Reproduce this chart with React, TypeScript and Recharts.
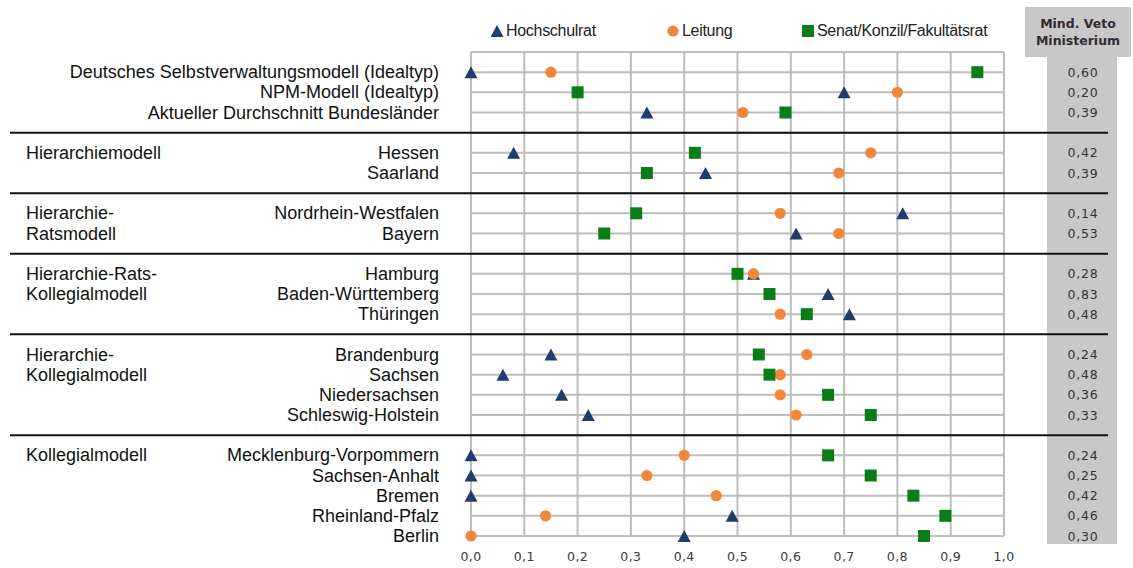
import { type ReactElement } from 'react'
import {
  ScatterChart,
  Scatter,
  XAxis,
  YAxis,
  CartesianGrid,
  ReferenceLine,
  Legend,
} from 'recharts'

// row labels, top to bottom
const rows = [
  'Deutsches Selbstverwaltungsmodell (Idealtyp)',
  'NPM-Modell (Idealtyp)',
  'Aktueller Durchschnitt Bundesländer',
  'Hessen',
  'Saarland',
  'Nordrhein-Westfalen',
  'Bayern',
  'Hamburg',
  'Baden-Württemberg',
  'Thüringen',
  'Brandenburg',
  'Sachsen',
  'Niedersachsen',
  'Schleswig-Holstein',
  'Mecklenburg-Vorpommern',
  'Sachsen-Anhalt',
  'Bremen',
  'Rheinland-Pfalz',
  'Berlin',
]

const groupLabels = [
  '', '', '',
  'Hierarchiemodell', '',
  'Hierarchie-', 'Ratsmodell',
  'Hierarchie-Rats-', 'Kollegialmodell', '',
  'Hierarchie-', 'Kollegialmodell', '', '',
  'Kollegialmodell', '', '', '', '',
]

// rows per block, blocks are split by black lines
const groupSizes = [3, 2, 2, 3, 4, 5]

const hochschulrat = [0.0, 0.7, 0.33, 0.08, 0.44, 0.81, 0.61, 0.53, 0.67, 0.71, 0.15, 0.06, 0.17, 0.22, 0.0, 0.0, 0.0, 0.49, 0.4]
const leitung = [0.15, 0.8, 0.51, 0.75, 0.69, 0.58, 0.69, 0.53, 0.56, 0.58, 0.63, 0.58, 0.58, 0.61, 0.4, 0.33, 0.46, 0.14, 0.0]
const senat = [0.95, 0.2, 0.59, 0.42, 0.33, 0.31, 0.25, 0.5, 0.56, 0.63, 0.54, 0.56, 0.67, 0.75, 0.67, 0.75, 0.83, 0.89, 0.85]
const vetoMinisterium = [0.6, 0.2, 0.39, 0.42, 0.39, 0.14, 0.53, 0.28, 0.83, 0.48, 0.24, 0.48, 0.36, 0.33, 0.24, 0.25, 0.42, 0.46, 0.3]

const xTicks = [0, 0.1, 0.2, 0.3, 0.4, 0.5, 0.6, 0.7, 0.8, 0.9, 1.0]

const NAVY = '#1f3c6c'
const ORANGE = '#f2873a'
const GREEN = '#0a7e16'
const GRID = '#bdbdbd'
const PANEL = '#c8c8c8'

// slot index per row, leaving one empty slot between blocks
const slots: number[] = []
const separators: number[] = []
{
  let s = 0
  groupSizes.forEach((n, gi) => {
    for (let k = 0; k < n; k++) slots.push(s++)
    if (gi < groupSizes.length - 1) separators.push(s++)
  })
}
const lastSlot = slots[slots.length - 1]!
const yTicks = Array.from({ length: lastSlot + 2 }, (_, i) => i - 1)

const toRows = (vals: number[]) => vals.map((v, i) => ({ x: v, slot: slots[i], name: rows[i] }))

const fmt = (v: number, d: number) => v.toFixed(d).replace('.', ',')

const LABEL_FONT = "'Liberation Sans', Arial, sans-serif"
const SMALL_FONT = "'DejaVu Sans', Verdana, sans-serif"

function RowTick(props: any): ReactElement | null {
  const { y, payload } = props
  const i = slots.indexOf(payload.value)
  if (i < 0) return null
  return (
    <g>
      <text x={439} y={y} textAnchor="end" dominantBaseline="central" fontSize={18} fontFamily={LABEL_FONT} fill="#111">
        {rows[i]}
      </text>
      {groupLabels[i] && (
        <text x={26} y={y} textAnchor="start" dominantBaseline="central" fontSize={18} fontFamily={LABEL_FONT} fill="#111">
          {groupLabels[i]}
        </text>
      )}
      <text x={1083} y={y} textAnchor="middle" dominantBaseline="central" fontSize={12.5} letterSpacing={0.8} fontFamily={SMALL_FONT} fill="#333">
        {fmt(vetoMinisterium[i]!, 2)}
      </text>
    </g>
  )
}

function Marker({ cx, cy, kind, color }: { cx: number; cy: number; kind: string; color: string }): ReactElement {
  if (kind === 'triangle') {
    return <polygon points={`${cx},${cy - 6} ${cx - 6.5},${cy + 6} ${cx + 6.5},${cy + 6}`} fill={color} />
  }
  if (kind === 'square') {
    return <rect x={cx - 6} y={cy - 6} width={12} height={12} fill={color} />
  }
  return <circle cx={cx} cy={cy} r={5.6} fill={color} />
}

const legendX = [490, 666, 801]

function LegendContent(props: any): ReactElement {
  const items = props.payload ?? []
  return (
    <div style={{ position: 'relative', height: 0 }}>
      {items.map((it: any, i: number) => (
        <div
          key={it.value}
          style={{
            position: 'absolute',
            left: legendX[i],
            top: 0,
            display: 'flex',
            alignItems: 'center',
            whiteSpace: 'nowrap',
            fontFamily: LABEL_FONT,
            fontSize: 16,
            color: '#222',
            letterSpacing: -0.3,
          }}
        >
          <svg width={14} height={14} style={{ marginRight: 2 }}>
            <Marker cx={7} cy={7} kind={it.type} color={it.color} />
          </svg>
          {it.value}
        </div>
      ))}
    </div>
  )
}

export default function App(): ReactElement {
  return (
    <div style={{ position: 'absolute', left: 0, top: 0, width: 1133, height: 568, background: '#fff' }}>
      {/* grey column for Mind. Veto Ministerium */}
      <div style={{ position: 'absolute', left: 1047, top: 57, width: 70, height: 487, background: PANEL }} />
      <div
        style={{
          position: 'absolute',
          left: 1025,
          top: 7,
          width: 106,
          height: 50,
          background: PANEL,
          display: 'flex',
          flexDirection: 'column',
          justifyContent: 'center',
          alignItems: 'center',
          fontFamily: SMALL_FONT,
          fontWeight: 'bold',
          fontSize: 12.5,
          lineHeight: '17px',
          color: '#332a33',
        }}
      >
        <div>Mind. Veto</div>
        <div>Ministerium</div>
      </div>
      <div style={{ position: 'absolute', left: 0, top: 0 }}>
        <ScatterChart width={1133} height={568} margin={{ top: 52, right: 129, bottom: 0, left: 0 }}>
          <CartesianGrid stroke={GRID} strokeWidth={2} />
          <XAxis
            type="number"
            dataKey="x"
            domain={[0, 1]}
            ticks={xTicks}
            interval={0}
            height={32}
            axisLine={false}
            tickLine={false}
            tickMargin={10}
            tickFormatter={(v: number) => fmt(v, 1)}
            tick={{ fontSize: 12.5, fontFamily: SMALL_FONT, fill: '#3a3a3a', letterSpacing: 0.4 }}
          />
          <YAxis
            type="number"
            dataKey="slot"
            domain={[-1, lastSlot]}
            reversed
            ticks={yTicks}
            interval={0}
            width={471}
            axisLine={false}
            tickLine={false}
            tick={(p: any) => <RowTick {...p} />}
          />
          <Legend
            verticalAlign="top"
            content={(p: any) => <LegendContent {...p} />}
            wrapperStyle={{ position: 'absolute', top: 22, left: 0, width: 1133 }}
          />
          {separators.map((s) => (
            <ReferenceLine
              key={s}
              y={s}
              shape={(p: any) => <line x1={10} x2={1108} y1={p.y1} y2={p.y2} stroke="#111" strokeWidth={2} />}
            />
          ))}
          <Scatter
            name="Hochschulrat"
            data={toRows(hochschulrat)}
            fill={NAVY}
            legendType="triangle"
            isAnimationActive={false}
            shape={(p: any) => <Marker cx={p.cx} cy={p.cy} kind="triangle" color={NAVY} />}
          />
          <Scatter
            name="Leitung"
            data={toRows(leitung)}
            fill={ORANGE}
            legendType="circle"
            isAnimationActive={false}
            shape={(p: any) => <Marker cx={p.cx} cy={p.cy} kind="circle" color={ORANGE} />}
          />
          <Scatter
            name="Senat/Konzil/Fakultätsrat"
            data={toRows(senat)}
            fill={GREEN}
            legendType="square"
            isAnimationActive={false}
            shape={(p: any) => <Marker cx={p.cx} cy={p.cy} kind="square" color={GREEN} />}
          />
        </ScatterChart>
      </div>
    </div>
  )
}
